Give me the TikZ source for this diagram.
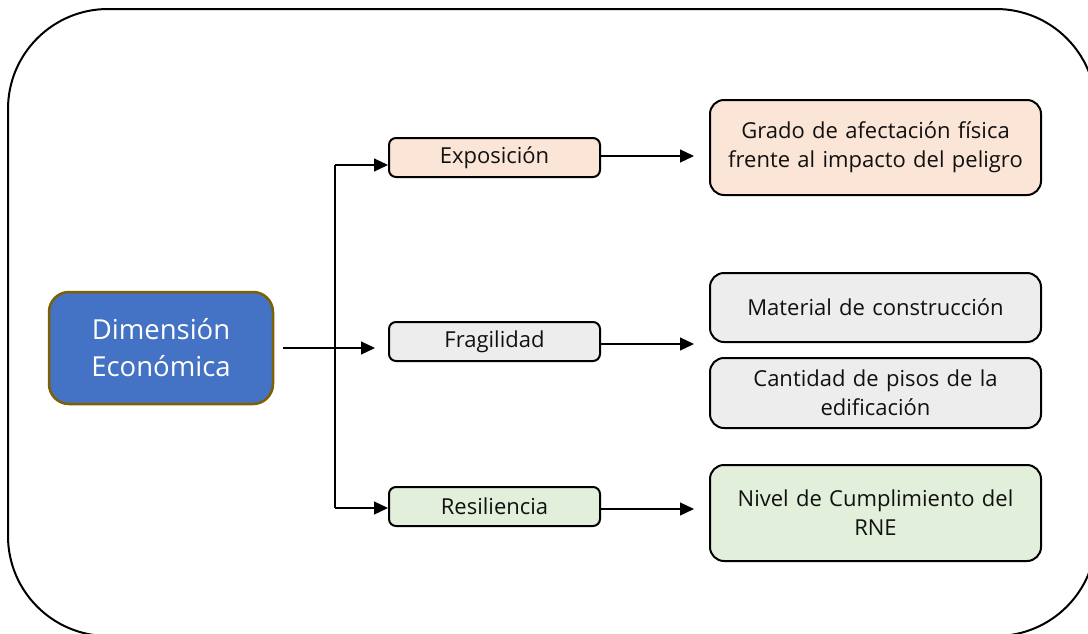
\documentclass[tikz,border=0pt]{standalone}
\usepackage{fontspec}
\setmainfont{Open Sans}
\usetikzlibrary{arrows.meta,calc}
\definecolor{dblue}{HTML}{4472C4}
\definecolor{dgold}{HTML}{7F6000}
\definecolor{peach}{HTML}{FBE5D6}
\definecolor{lgray}{HTML}{EDEDED}
\definecolor{lgreen}{HTML}{E2EFDA}
\definecolor{txt}{HTML}{111111}
\tikzset{
  box/.style={draw=black, line width=2pt, align=center, inner sep=0pt, text=txt,
    font=\fontsize{22}{29}\selectfont, minimum width=211pt, minimum height=39pt, rounded corners=7pt},
  bigbox/.style={box, minimum width=331pt, rounded corners=14pt, text width=320pt},
  arr/.style={line width=1.2pt, -{Triangle[length=14pt,width=13pt]}},
  ln/.style={line width=1.2pt}
}
\begin{document}
\begin{tikzpicture}[x=1pt,y=-1pt]
\useasboundingbox (0,0) rectangle (1088,633);
\clip (0,0) rectangle (1088,633);
\draw[line width=2pt, rounded corners=100pt] (8,9) rectangle (1096,636);
\node[draw=dgold, line width=2.5pt, fill=dblue, text=white, rounded corners=20pt,
  minimum width=224pt, minimum height=112pt, align=center, inner sep=0pt,
  font=\fontsize{27.5}{37}\selectfont] (D) at (161,348) {Dimensión\\Económica};
\node[box, fill=peach] (E) at (494.5,157.5) {Exposición};
\node[box, fill=lgray] (F) at (494.5,341.5) {Fragilidad};
\node[box, fill=lgreen] (R) at (494.5,506.5) {Resiliencia};
\node[bigbox, fill=peach, minimum height=95pt] (G) at (875.5,147.5) {Grado de afectación física\\frente al impacto del peligro};
\node[bigbox, fill=lgray, minimum height=69pt] (M) at (875.5,307.5) {Material de construcción};
\node[bigbox, fill=lgray, minimum height=70pt] (C) at (875.5,393) {Cantidad de pisos de la\\edificación};
\node[bigbox, fill=lgreen, minimum height=96pt] (N) at (875.5,513) {Nivel de Cumplimiento del\\RNE};
\coordinate (t) at (335,165);
\coordinate (b) at (335,508);
\draw[arr, shorten <=9pt, shorten >=13pt] (D.east) -- (D.east -| F.west);
\draw[ln] (t) -- (b);
\draw[arr] (t) -- (t -| E.west);
\draw[arr] (b) -- (b -| R.west);
\draw[arr, shorten >=15pt] ($(E.east)+(0,-1.5)$) -- ($(E.east -| G.west)+(0,-1.5)$);
\draw[arr, shorten >=15pt] ($(F.east)+(0,2.5)$) -- ($(F.east -| M.west)+(0,2.5)$);
\draw[arr, shorten >=15pt] ($(R.east)+(0,2.5)$) -- ($(R.east -| N.west)+(0,2.5)$);
\end{tikzpicture}
\end{document}
